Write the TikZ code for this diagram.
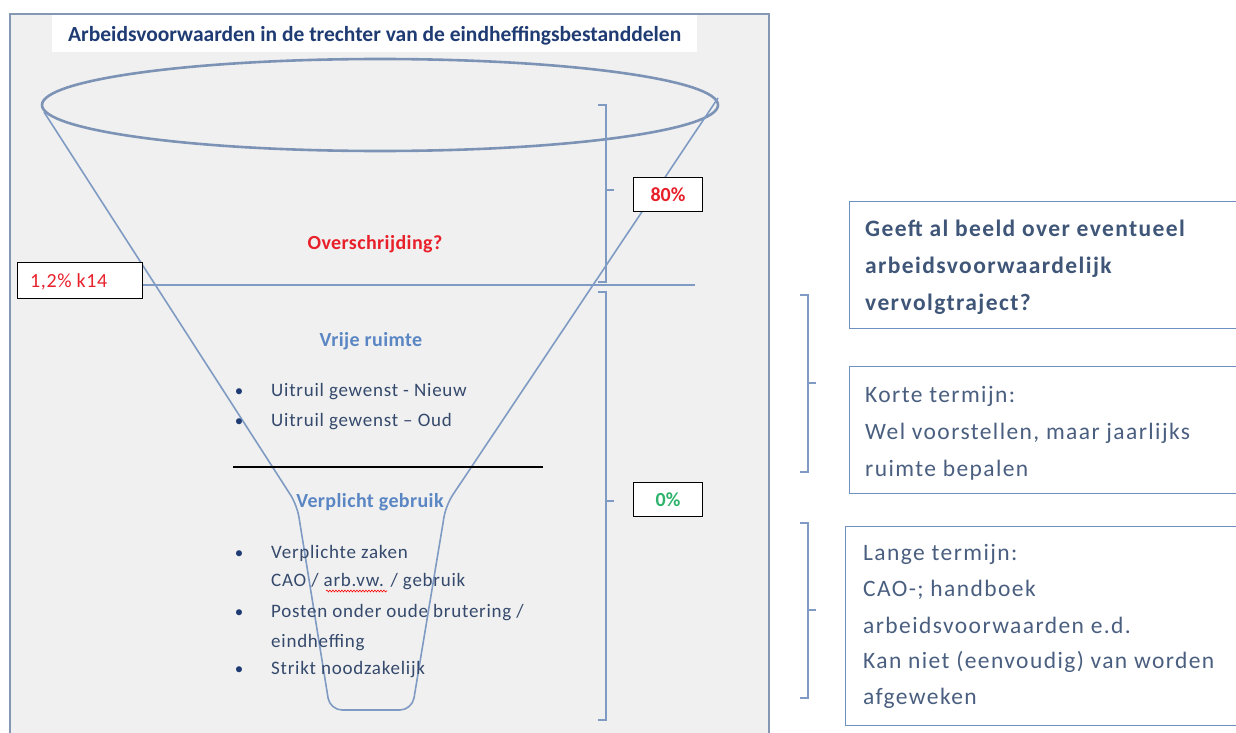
\documentclass[tikz,border=0pt]{standalone}
\usepackage{fontspec}
\setmainfont{Carlito}
\usetikzlibrary{decorations.pathmorphing}
\definecolor{framec}{HTML}{8497B5}
\definecolor{panel}{HTML}{F0F0F0}
\definecolor{funnelc}{HTML}{7F9BC3}
\definecolor{rimc}{HTML}{7D93B6}
\definecolor{titleblue}{HTML}{1F3B73}
\definecolor{txtblue}{HTML}{34496C}
\definecolor{headblue}{HTML}{5A86C4}
\definecolor{redtxt}{HTML}{E8202A}
\definecolor{greentxt}{HTML}{2DB36B}
\definecolor{boxblue}{HTML}{6F8FC0}
\definecolor{rtxt}{HTML}{4A5F80}
\definecolor{rtxtb}{HTML}{3F5678}
\tikzset{
  lbl/.style={draw=black, line width=1.2pt, fill=white, inner sep=0pt},
  listtxt/.style={anchor=base west, inner sep=0pt, text=txtblue, font=\fontsize{19}{22}\selectfont\addfontfeatures{LetterSpace=4}},
  bul/.style={anchor=base, inner sep=0pt, text=titleblue, font=\fontsize{17}{20}\selectfont},
  head/.style={anchor=base, inner sep=0pt, font=\bfseries\fontsize{20}{22}\selectfont\addfontfeatures{LetterSpace=2}},
  rbox/.style={draw=boxblue, line width=1.3pt, fill=white, inner sep=0pt, anchor=north west},
  rline/.style={anchor=base west, inner sep=0pt, text=rtxt, font=\fontsize{23.5}{26}\selectfont\addfontfeatures{LetterSpace=6}},
  rlineb/.style={rline, text=rtxtb, font=\bfseries\fontsize{23.5}{26}\selectfont\addfontfeatures{LetterSpace=6}},
  brace/.style={draw=funnelc, line width=1.4pt},
}
\begin{document}
\begin{tikzpicture}[x=1pt,y=-1pt]
\useasboundingbox (0,0) rectangle (1236,733);
\fill[white] (0,0) rectangle (1236,733);
% left panel
\draw[framec, line width=2.2pt, fill=panel] (10,740) -- (10,14) -- (769,14) -- (769,740);
% title
\node[fill=white, minimum width=645, minimum height=37, inner sep=0pt, anchor=north west] (titlebox) at (52,15) {};
\node[anchor=base west, inner sep=0pt, text=titleblue, font=\bfseries\fontsize{21.5}{24}\selectfont] (title) at (68,42) {Arbeidsvoorwaarden in de trechter van de eindheffingsbestanddelen};
% funnel
\draw[rimc, line width=2.6pt] (380,105) ellipse [x radius=338, y radius=46];
\draw[funnelc, line width=1.6pt, rounded corners=12pt] (44,112) -- (297,505) -- (330,710) -- (412,710) -- (446,505) -- (718,98);
% split line
\draw[funnelc, line width=1.6pt] (142,285) -- (695,285);
% labels
\node[lbl, minimum width=125, minimum height=36, anchor=north west] (k14) at (17,262) {};
\node[anchor=base west, inner sep=0pt, text=redtxt, font=\fontsize{20}{22}\selectfont\addfontfeatures{LetterSpace=3}] (k14t) at (30,287) {1,2\% k14};
\node[lbl, minimum width=69, minimum height=34, anchor=north west] (p80) at (633,177) {};
\node[anchor=base, inner sep=0pt, text=redtxt, font=\bfseries\fontsize{20}{22}\selectfont] (p80t) at (668,201) {80\%};
\node[lbl, minimum width=69, minimum height=34, anchor=north west] (p0) at (633,482) {};
\node[anchor=base, inner sep=0pt, text=greentxt, font=\bfseries\fontsize{20}{22}\selectfont] (p0t) at (668,506) {0\%};
% braces left
\draw[brace] (598,105) -- (606,105) -- (606,282) -- (598,282);
\draw[brace] (606,190) -- (614,190);
\draw[brace] (598,292) -- (606,292) -- (606,720) -- (598,720);
\draw[brace] (606,501) -- (614,501);
% funnel texts
\node[head, text=redtxt] (over) at (375,249) {Overschrijding?};
\node[head, text=headblue] (vrij) at (371,346) {Vrije ruimte};
\node[bul] (b1) at (239,396) {•};
\node[listtxt] (l1) at (271,396) {Uitruil gewenst - Nieuw};
\node[bul] (b2) at (239,426) {•};
\node[listtxt] (l2) at (271,426) {Uitruil gewenst – Oud};
\draw[black, line width=1.2pt] (233,467) -- (543,467);
\node[head, text=headblue] (verp) at (370,507) {Verplicht gebruik};
\node[bul] (b3) at (239,558) {•};
\node[listtxt] (l3) at (271,558) {Verplichte zaken};
\node[listtxt] (l4) at (271,586) {CAO / arb.vw. / gebruik};
\draw[red, line width=0.6pt, decorate, decoration={snake, amplitude=0.9pt, segment length=3pt}] (326,591) -- (387,591);
\node[bul] (b4) at (239,617) {•};
\node[listtxt] (l5) at (271,617) {Posten onder oude brutering /};
\node[listtxt] (l6) at (271,647) {eindheffing};
\node[bul] (b5) at (239,674) {•};
\node[listtxt] (l7) at (271,674) {Strikt noodzakelijk};
% right braces
\draw[brace] (800,295) -- (808,295) -- (808,472) -- (800,472);
\draw[brace] (808,383) -- (816,383);
\draw[brace] (800,523) -- (808,523) -- (808,698) -- (800,698);
\draw[brace] (808,610) -- (816,610);
% right boxes
\node[rbox, minimum width=400, minimum height=127] (r1) at (849,201) {};
\node[rlineb] (r1a) at (865,236) {Geeft al beeld over eventueel};
\node[rlineb] (r1b) at (865,273) {arbeidsvoorwaardelijk};
\node[rlineb] (r1c) at (865,310) {vervolgtraject?};
\node[rbox, minimum width=400, minimum height=127] (r2) at (849,366) {};
\node[rline] (r2a) at (865,402) {Korte termijn:};
\node[rline] (r2b) at (865,439) {Wel voorstellen, maar jaarlijks};
\node[rline] (r2c) at (865,476) {ruimte bepalen};
\node[rbox, minimum width=400, minimum height=199] (r3) at (845,526) {};
\node[rline] (r3a) at (863,560) {Lange termijn:};
\node[rline] (r3b) at (863,596) {CAO-; handboek};
\node[rline] (r3c) at (863,633) {arbeidsvoorwaarden e.d.};
\node[rline] (r3d) at (863,668) {Kan niet (eenvoudig) van worden};
\node[rline] (r3e) at (863,704) {afgeweken};
\end{tikzpicture}
\end{document}
